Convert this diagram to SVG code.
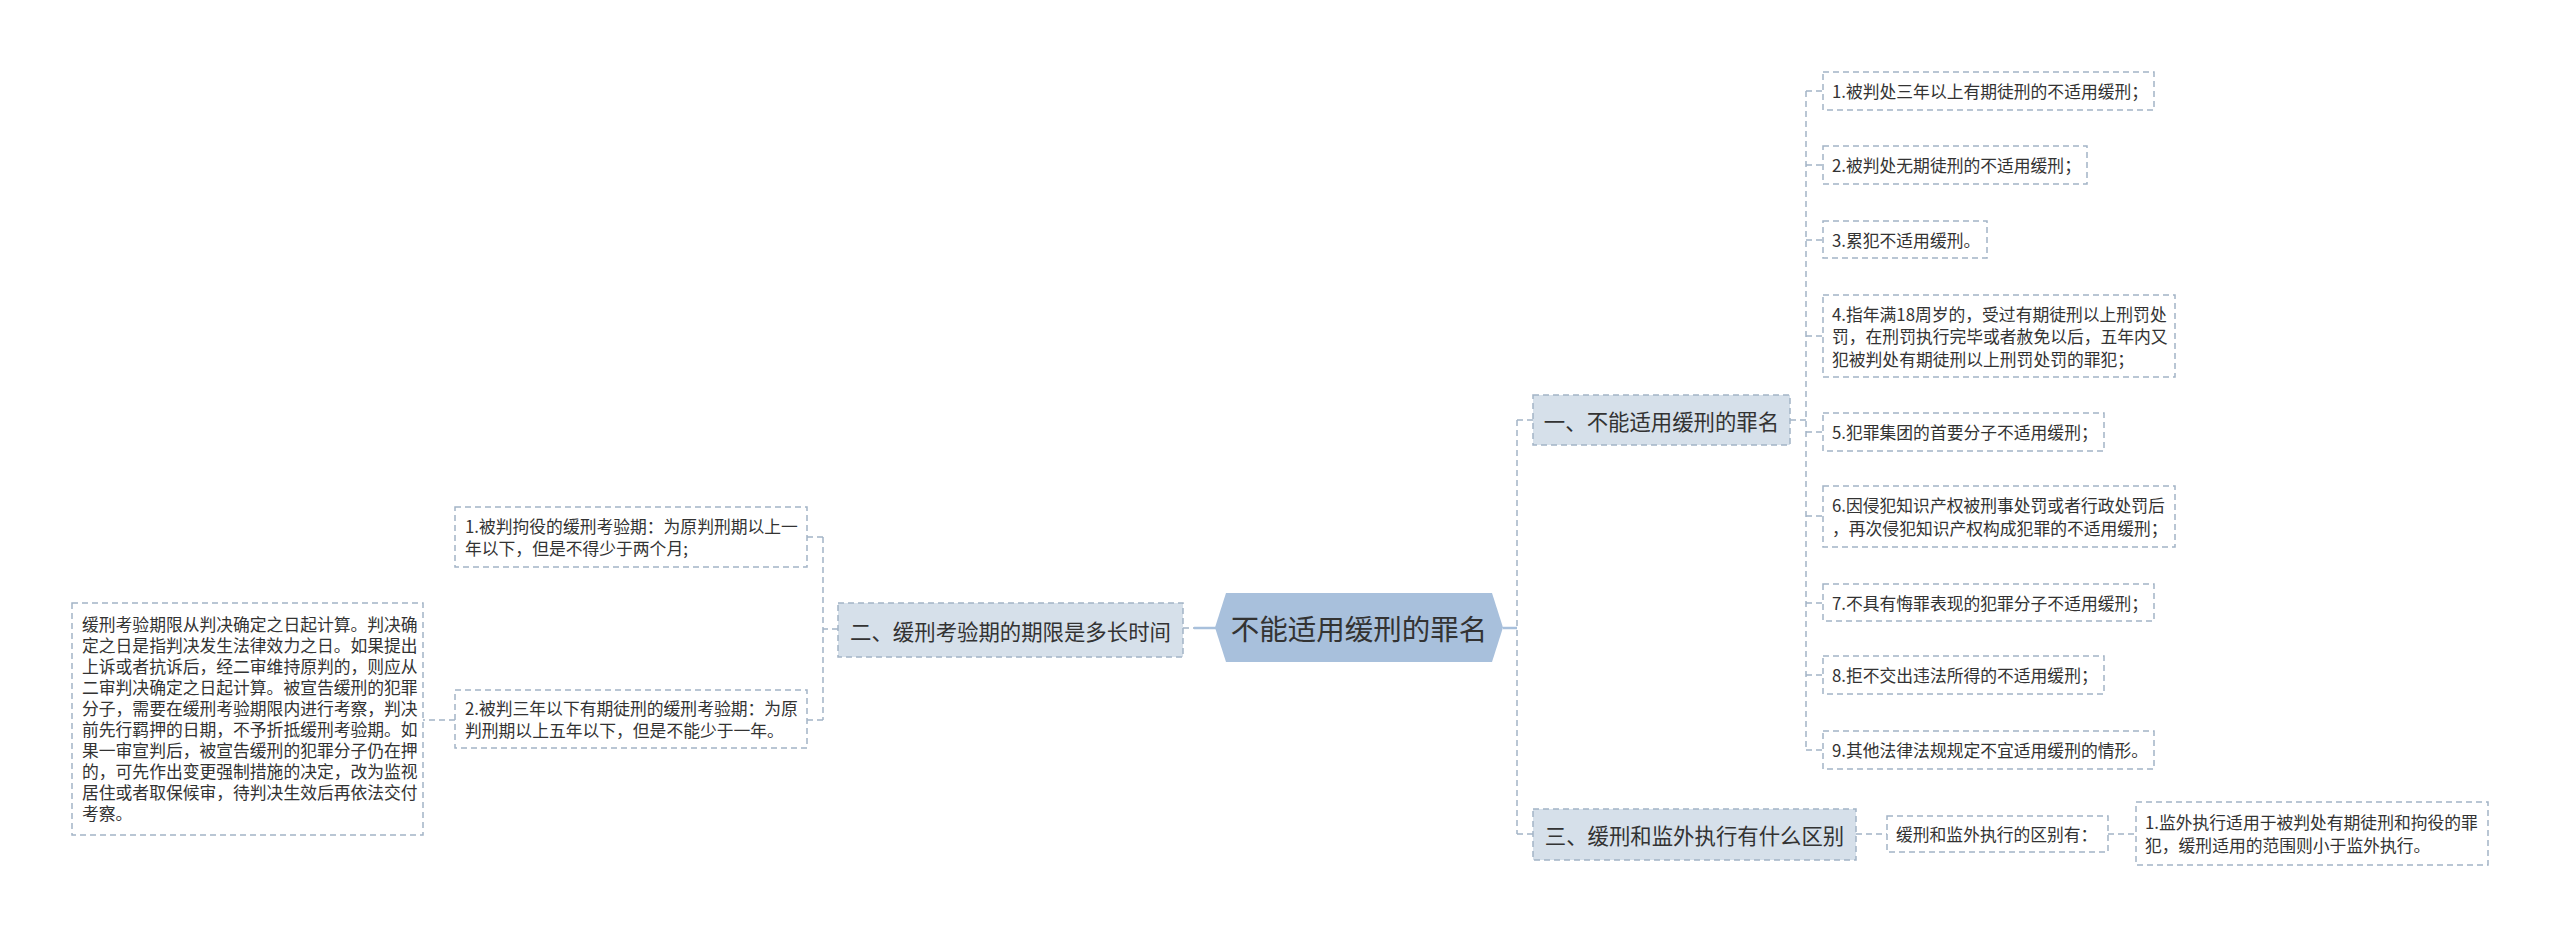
<svg xmlns="http://www.w3.org/2000/svg" width="2560" height="937" viewBox="0 0 2560 937">
<style>
text{font-family:"Noto Sans CJK SC","Liberation Sans",sans-serif;fill:#333333;dominant-baseline:central}
.leaf rect{fill:#ffffff;stroke:#a3b4c6;stroke-width:1.5;stroke-dasharray:6 4}
.branch rect{fill:#d6e0ea;stroke:#a3b4c6;stroke-width:1.5;stroke-dasharray:6 4}
.leaf text{font-size:16.8px}
.branch text{font-size:21.4px;text-anchor:middle}
.conn path{fill:none;stroke:#a3b4c6;stroke-width:1.5;stroke-dasharray:6 4}
.conn .solid{stroke:#a8c0dc;stroke-width:2.5;stroke-dasharray:none}
</style>
<rect width="2560" height="937" fill="#ffffff"/>
<g id="connectors" class="conn">
<path d="M1183 628 H1194"/>
<path class="solid" d="M1194 628 H1216"/>
<path class="solid" d="M1503 628 H1517"/>
<path d="M1517 420 V834"/>
<path d="M1517 420 H1533"/>
<path d="M1517 834 H1533"/>
<path d="M1790 420 H1806"/>
<path d="M1806 91 V750"/>
<path d="M1806 91 H1823"/>
<path d="M1806 165 H1823"/>
<path d="M1806 240 H1823"/>
<path d="M1806 336 H1823"/>
<path d="M1806 432 H1823"/>
<path d="M1806 516 H1823"/>
<path d="M1806 603 H1823"/>
<path d="M1806 675 H1823"/>
<path d="M1806 750 H1823"/>
<path d="M1856 834 H1887"/>
<path d="M2108 834 H2136"/>
<path d="M838 629 H823"/>
<path d="M823 537 V720"/>
<path d="M823 537 H807"/>
<path d="M823 720 H807"/>
<path d="M455 720 H423"/>
</g>
<g id="root">
<polygon points="1215,627.5 1226,593 1492,593 1503,627.5 1492,662 1226,662" fill="#a8c0dc"/>
<text x="1359" y="627" font-size="28.5" text-anchor="middle">不能适用缓刑的罪名</text>
</g>
<g id="b1" class="branch">
<rect x="1533" y="395" width="257" height="50"/>
<text x="1661.5" y="420">一、不能适用缓刑的罪名</text>
</g>
<g id="b2" class="branch">
<rect x="838" y="603" width="345" height="54"/>
<text x="1010.5" y="630">二、缓刑考验期的期限是多长时间</text>
</g>
<g id="b3" class="branch">
<rect x="1533" y="809" width="323" height="51"/>
<text x="1694.5" y="834">三、缓刑和监外执行有什么区别</text>
</g>
<g id="r1" class="leaf"><rect x="1823" y="72" width="331" height="38"/><text x="1832" y="91">1.被判处三年以上有期徒刑的不适用缓刑；</text></g>
<g id="r2" class="leaf"><rect x="1823" y="146" width="264" height="38"/><text x="1832" y="165">2.被判处无期徒刑的不适用缓刑；</text></g>
<g id="r3" class="leaf"><rect x="1823" y="221" width="164" height="37"/><text x="1832" y="240">3.累犯不适用缓刑。</text></g>
<g id="r4" class="leaf"><rect x="1823" y="295" width="352" height="82"/>
<text x="1832" y="313.5">4.指年满18周岁的，受过有期徒刑以上刑罚处</text>
<text x="1832" y="336">罚，在刑罚执行完毕或者赦免以后，五年内又</text>
<text x="1832" y="358.5">犯被判处有期徒刑以上刑罚处罚的罪犯；</text></g>
<g id="r5" class="leaf"><rect x="1823" y="413" width="281" height="38"/><text x="1832" y="432">5.犯罪集团的首要分子不适用缓刑；</text></g>
<g id="r6" class="leaf"><rect x="1823" y="486" width="352" height="61"/>
<text x="1832" y="505">6.因侵犯知识产权被刑事处罚或者行政处罚后</text>
<text x="1832" y="528">，再次侵犯知识产权构成犯罪的不适用缓刑；</text></g>
<g id="r7" class="leaf"><rect x="1823" y="584" width="331" height="37"/><text x="1832" y="603">7.不具有悔罪表现的犯罪分子不适用缓刑；</text></g>
<g id="r8" class="leaf"><rect x="1823" y="656" width="281" height="38"/><text x="1832" y="675">8.拒不交出违法所得的不适用缓刑；</text></g>
<g id="r9" class="leaf"><rect x="1823" y="731" width="331" height="38"/><text x="1832" y="750">9.其他法律法规规定不宜适用缓刑的情形。</text></g>
<g id="c1" class="leaf"><rect x="1887" y="816" width="221" height="36"/><text x="1896" y="834">缓刑和监外执行的区别有：</text></g>
<g id="c2" class="leaf"><rect x="2136" y="802" width="352" height="63"/>
<text x="2145" y="822">1.监外执行适用于被判处有期徒刑和拘役的罪</text>
<text x="2145" y="845">犯，缓刑适用的范围则小于监外执行。</text></g>
<g id="l1" class="leaf"><rect x="455" y="507" width="352" height="60"/>
<text x="465" y="526">1.被判拘役的缓刑考验期：为原判刑期以上一</text>
<text x="465" y="548">年以下，但是不得少于两个月;</text></g>
<g id="l2" class="leaf"><rect x="455" y="690" width="352" height="58"/>
<text x="465" y="708">2.被判三年以下有期徒刑的缓刑考验期：为原</text>
<text x="465" y="730">判刑期以上五年以下，但是不能少于一年。</text></g>
<g id="l3" class="leaf"><rect x="72" y="603" width="351" height="232"/>
<text x="82" y="623.5">缓刑考验期限从判决确定之日起计算。判决确</text>
<text x="82" y="644.5">定之日是指判决发生法律效力之日。如果提出</text>
<text x="82" y="665.5">上诉或者抗诉后，经二审维持原判的，则应从</text>
<text x="82" y="686.5">二审判决确定之日起计算。被宣告缓刑的犯罪</text>
<text x="82" y="707.5">分子，需要在缓刑考验期限内进行考察，判决</text>
<text x="82" y="728.5">前先行羁押的日期，不予折抵缓刑考验期。如</text>
<text x="82" y="749.5">果一审宣判后，被宣告缓刑的犯罪分子仍在押</text>
<text x="82" y="770.5">的，可先作出变更强制措施的决定，改为监视</text>
<text x="82" y="791.5">居住或者取保候审，待判决生效后再依法交付</text>
<text x="82" y="812.5">考察。</text></g>
</svg>
